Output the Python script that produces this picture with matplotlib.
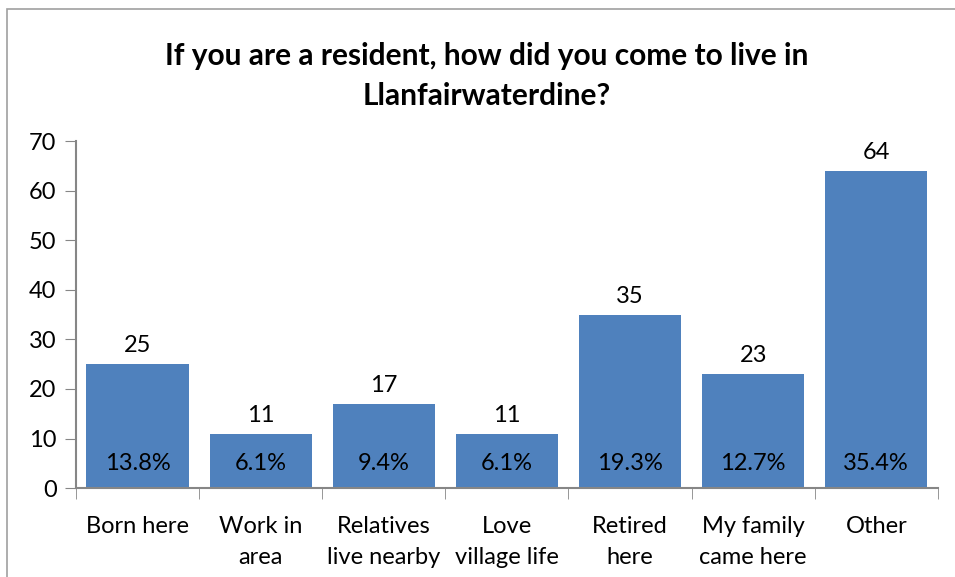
import matplotlib.pyplot as plt
import matplotlib.patches as patches
import numpy as np

categories = ['Born here', 'Work in\narea', 'Relatives\nlive nearby', 'Love\nvillage life',
              'Retired\nhere', 'My family\ncame here', 'Other']
counts = [25, 11, 17, 11, 35, 23, 64]
percents = ['13.8%', '6.1%', '9.4%', '6.1%', '19.3%', '12.7%', '35.4%']

plt.rcParams['font.family'] = ['Lato', 'DejaVu Sans']

fig = plt.figure(figsize=(9.55, 5.77), dpi=100)
ax = fig.add_axes([0.0796, 0.154, 0.9024, 0.6016])

# chart border (cropped on right and bottom like the source)
fig.patches.append(patches.Rectangle((7 / 955, -0.1), 1.2, 1 - 9 / 577 + 0.1,
                                     transform=fig.transFigure, fill=False,
                                     edgecolor='#a0a0a0', linewidth=1.2))

x = np.arange(len(categories))
bars = ax.bar(x, counts, width=0.83, color='#4F81BD')

for xi, c, p in zip(x, counts, percents):
    ax.text(xi, c + 1.6, str(c), ha='center', va='bottom', fontsize=17)
    ax.text(xi, 5.0, p, ha='center', va='center', fontsize=17)

ax.set_xlim(-0.5, len(categories) - 0.5)
ax.set_ylim(0, 70)
ax.set_yticks(range(0, 71, 10))
ax.tick_params(axis='y', labelsize=17, length=8, color='#868686', pad=6)
ax.set_xticks(x)
ax.set_xticklabels(categories, fontsize=17, linespacing=1.6)
ax.tick_params(axis='x', length=0, pad=20)
ax.set_xticks(np.arange(-0.5, len(categories)), minor=True)
ax.tick_params(axis='x', which='minor', length=8, color='#868686')

for s in ['top', 'right']:
    ax.spines[s].set_visible(False)
for s in ['left', 'bottom']:
    ax.spines[s].set_color('#868686')
    ax.spines[s].set_linewidth(1.5)

fig.text(0.51, 0.868, 'If you are a resident, how did you come to live in\nLlanfairwaterdine?',
         ha='center', va='center', fontsize=21.5, fontweight='bold', linespacing=1.5)

fig.savefig('out.png', dpi=100)
